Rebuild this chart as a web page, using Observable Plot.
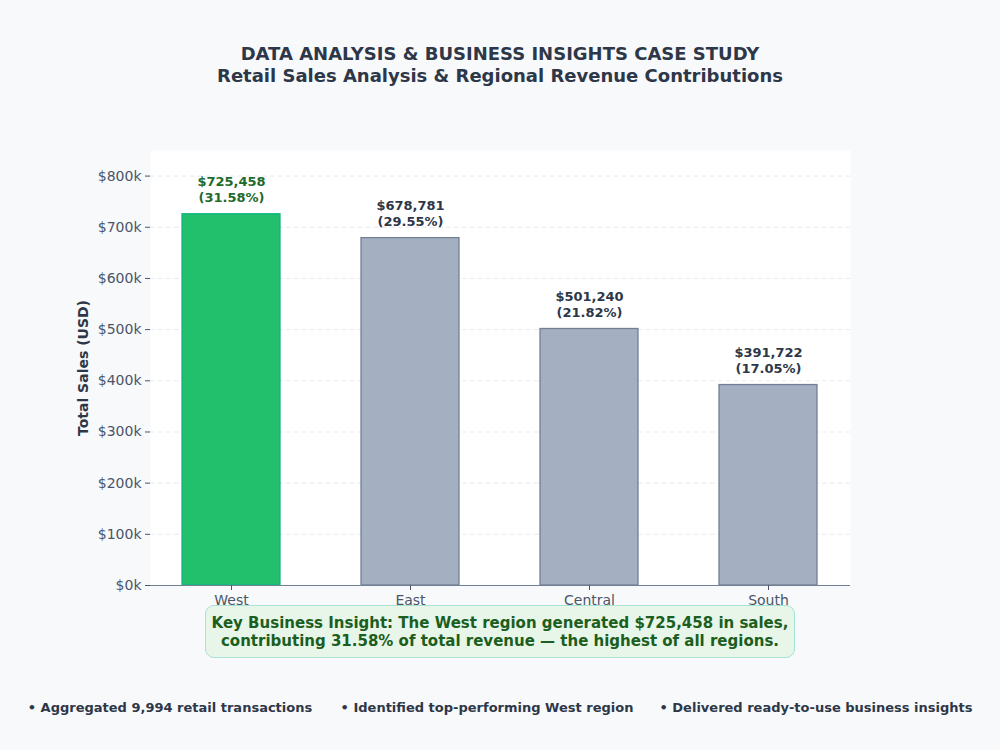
<!DOCTYPE html>
<html>
<head>
<meta charset="utf-8">
<script src="https://cdn.jsdelivr.net/npm/d3@7"></script>
<script src="https://cdn.jsdelivr.net/npm/@observablehq/plot@0.6"></script>
<style>
  html, body { margin: 0; padding: 0; background: #f8f9fb; }
  body { width: 1000px; height: 750px; position: relative; overflow: hidden;
         font-family: "DejaVu Sans", sans-serif; color: #2d3748; }
  .title { position: absolute; left: 0; width: 1000px; text-align: center; font-weight: bold; }
  #t1 { top: 43px; font-size: 18px; }
  #t2 { top: 65px; font-size: 18px; }
  #chart { position: absolute; left: 0; top: 120px; }
  #insight { position: absolute; left: 205px; top: 605px; width: 588px; height: 51px;
             background: #e8f5e9; border: 1.5px solid #a6e3d3; border-radius: 9px;
             box-sizing: content-box; color: #1b5e20; font-weight: bold; font-size: 15px;
             text-align: center; line-height: 18px; padding-top: 0; display: flex;
             flex-direction: column; justify-content: center; }
  .bullet { position: absolute; top: 700px; font-size: 13px; font-weight: bold;
            white-space: nowrap; transform: translateX(-50%); color: #2d3748; }
</style>
</head>
<body>
<div class="title" id="t1">DATA ANALYSIS &amp; BUSINESS INSIGHTS CASE STUDY</div>
<div class="title" id="t2">Retail Sales Analysis &amp; Regional Revenue Contributions</div>
<div id="chart"></div>
<div id="insight"></div>
<div id="bullets"></div>
<script>
// Regional sales totals
const regions = ["West", "East", "Central", "South"];
const sales = [725458, 678781, 501240, 391722];
const yTicks = [0, 100000, 200000, 300000, 400000, 500000, 600000, 700000, 800000];
const bullets = [
  "• Aggregated 9,994 retail transactions",
  "• Identified top-performing West region",
  "• Delivered ready-to-use business insights"
];
const bulletCenters = [170, 487, 816];

const total = d3.sum(sales);
const rows = regions.map((r, i) => ({
  region: r,
  sales: sales[i],
  pct: sales[i] / total * 100
}));
const best = rows.reduce((a, b) => (b.sales > a.sales ? b : a));

const fmtMoney = d3.format("$,.0f");
const fillOf = d => d.region === best.region ? "#22c06c" : "#a4afc1";
const strokeOf = d => d.region === best.region ? "#13b583" : "#718096";
const labelColor = d => d.region === best.region ? "#1e6b2a" : "#2d3748";

const chart = Plot.plot({
  width: 1000,
  height: 495,
  marginLeft: 150,
  marginRight: 150,
  marginTop: 30,
  marginBottom: 30,
  style: { fontFamily: "DejaVu Sans", fontSize: "14px", color: "#4a5568", background: "transparent" },
  x: { type: "band", domain: regions, paddingInner: 0.45, paddingOuter: 0.175, label: null },
  y: { domain: [0, 850000], label: null },
  marks: [
    Plot.frame({ fill: "white", stroke: "none" }),
    Plot.ruleY(yTicks.filter(d => d > 0), { stroke: "#e2e6ec", strokeDasharray: "5,3", strokeWidth: 0.8 }),
    Plot.barY(rows, {
      x: "region", y: "sales",
      fill: fillOf, stroke: strokeOf, strokeWidth: 1.3
    }),
    Plot.ruleY([0], { stroke: "#718096", strokeWidth: 1 }),
    Plot.text(rows, {
      x: "region", y: "sales",
      text: d => `${fmtMoney(d.sales)}\n(${d.pct.toFixed(2)}%)`,
      lineAnchor: "bottom", dy: -12, lineHeight: 1.25,
      fill: labelColor, fontWeight: "bold", fontSize: 13
    }),
    Plot.axisY({
      ticks: yTicks, tickFormat: d => `$${d / 1000}k`,
      tickSize: 5, tickPadding: 4, label: null, stroke: "#4a5568"
    }),
    Plot.axisX({ tickSize: 5, tickPadding: 5, label: null, stroke: "#4a5568" }),
    Plot.text(["Total Sales (USD)"], {
      frameAnchor: "left", dx: -67, rotate: -90, textAnchor: "middle",
      fontWeight: "bold", fontSize: 14, fill: "#2d3748"
    })
  ]
});
document.getElementById("chart").appendChild(chart);

document.getElementById("insight").innerHTML =
  `<div>Key Business Insight: The ${best.region} region generated ${fmtMoney(best.sales)} in sales,</div>` +
  `<div>contributing ${best.pct.toFixed(2)}% of total revenue — the highest of all regions.</div>`;

const bl = document.getElementById("bullets");
bullets.forEach((b, i) => {
  const el = document.createElement("div");
  el.className = "bullet";
  el.style.left = bulletCenters[i] + "px";
  el.textContent = b;
  bl.appendChild(el);
});
</script>
</body>
</html>
